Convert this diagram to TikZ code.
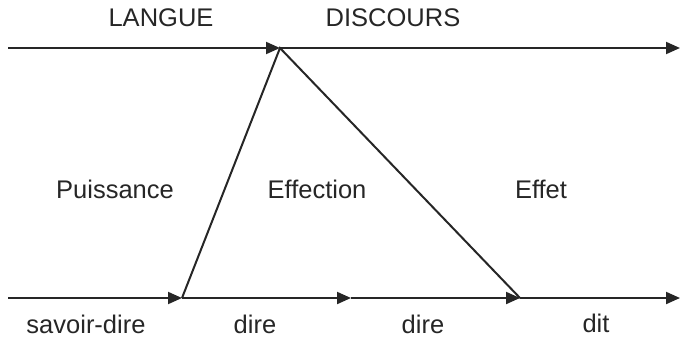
\documentclass[tikz,border=0pt]{standalone}
\usepackage{fontspec}
\setmainfont{Liberation Sans}
\usepackage{tikz}
\usetikzlibrary{arrows.meta}

\begin{document}
\begin{tikzpicture}[
        x=1pt, y=-1pt,
        label/.style={font=\fontsize{25.5}{29}\selectfont, text=black!85, inner sep=0pt, anchor=base},
        line/.style={-{Triangle[length=14pt, width=12pt]}, line width=2pt, black!85},
        side/.style={line width=2pt, black!85}
    ]
        \useasboundingbox (0,0) rectangle (680,338);
        % axes
        \coordinate (tl) at (8,48);
        \coordinate (apex) at (280,48);
        \coordinate (tr) at (680,48);
        \coordinate (bl) at (8,298);
        \coordinate (b1) at (182,298);
        \coordinate (b2) at (351,298);
        \coordinate (b3) at (520,298);
        \coordinate (br) at (680,298);

        \node (langue) [label] at (161,26) {LANGUE};
        \node (discours) [label] at (393,26) {DISCOURS};
        \node (puiss) [label] at (115,198) {Puissance};
        \node (effec) [label] at (317,198) {Effection};
        \node (effet) [label] at (541,198) {Effet};
        \node (savoir) [label] at (86,333) {savoir-dire};
        \node (dire1) [label] at (255,333) {dire};
        \node (dire2) [label] at (423,333) {dire};
        \node (dit) [label] at (596,332) {dit};

        \draw [line] (tl) -- (apex);
        \draw [line] (apex) -- (tr);
        \draw [line] (bl) -- (b1);
        \draw [line] (b1) -- (b2);
        \draw [line] (b2) -- (b3);
        \draw [line] (b3) -- (br);
        \draw [side] (b1) -- (apex) -- (b3);
    \end{tikzpicture}
\end{document}
